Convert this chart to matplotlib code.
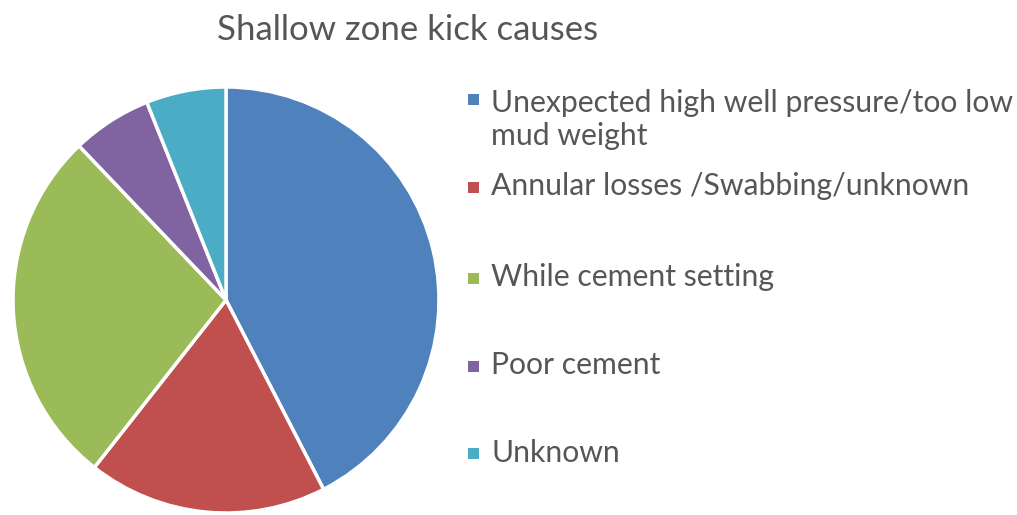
import matplotlib
matplotlib.use("Agg")
import matplotlib.pyplot as plt
from matplotlib.patches import Rectangle

plt.rcParams["font.family"] = ["Lato", "DejaVu Sans"]

# data
title = "Shallow zone kick causes"
labels = [
    "Unexpected high well pressure/too low\nmud weight",
    "Annular losses /Swabbing/unknown",
    "While cement setting",
    "Poor cement",
    "Unknown",
]
counts = [14, 6, 9, 2, 2]
colors = ["#4F81BD", "#C0504D", "#9BBB59", "#8064A2", "#4BACC6"]

W, H = 1017, 515
fig = plt.figure(figsize=(W / 100, H / 100), dpi=100)
fig.patch.set_facecolor("white")

# pie axes: center (226, 300) px, radius 213 px
cx, cy, r = 226, 300, 213
ax = fig.add_axes([(cx - r) / W, (H - cy - r) / H, 2 * r / W, 2 * r / H])
ax.pie(counts, colors=colors, startangle=90, counterclock=False,
       radius=1.0, wedgeprops=dict(edgecolor="white", linewidth=2.5))
ax.set_xlim(-1.0, 1.0)
ax.set_ylim(-1.0, 1.0)
ax.set_aspect("auto")
ax.axis("off")

text_color = "#565656"
fig.text(408 / W, 1 - 40 / H, title, ha="center", va="baseline",
         fontsize=25, color=text_color)

# legend laid out like the Excel one (marker centre, text baselines)
marker_x = 473
text_x = 491
markers_y = [99, 188, 278, 366, 453]
baselines = [[112, 145], [195], [286], [374], [462]]
for lab, col, my, bls in zip(labels, colors, markers_y, baselines):
    fig.patches.append(Rectangle(((marker_x - 5.5) / W, 1 - (my + 5.5) / H), 11 / W, 11 / H,
                                 transform=fig.transFigure, facecolor=col,
                                 edgecolor="none"))
    for line, bl in zip(lab.split("\n"), bls):
        fig.text(text_x / W, 1 - bl / H, line, ha="left", va="baseline",
                 fontsize=21.7, color=text_color)

fig.savefig("out.png", dpi=100)
